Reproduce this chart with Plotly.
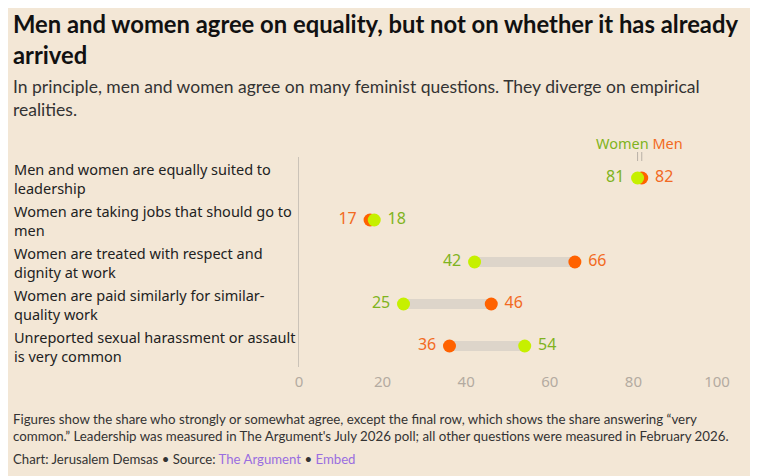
import plotly.graph_objects as go

# Survey results (% agreeing)
questions = [
    'Men and women are equally suited to<br>leadership',
    'Women are taking jobs that should go to<br>men',
    'Women are treated with respect and<br>dignity at work',
    'Women are paid similarly for similar-<br>quality work',
    'Unreported sexual harassment or assault<br>is very common',
]
women = [81, 18, 42, 25, 54]
men = [82, 17, 66, 46, 36]
x_ticks = [0, 20, 40, 60, 80, 100]

BG = '#f3e7d6'
WOMEN_DOT = '#c6f000'
MEN_DOT = '#ff6200'
WOMEN_TXT = '#7fb320'
MEN_TXT = '#f26a22'
HEAD = 'Lato, sans-serif'
BODY = 'Noto Sans, Open Sans, sans-serif'

# page body has an 8px margin, so figure pixels = reference pixels - 8
OFF = 8
rows = list(range(len(questions)))

fig = go.Figure()

# grey connectors between the two dots
cx, cy = [], []
for i in rows:
    cx += [women[i], men[i], None]
    cy += [i, i, None]
fig.add_trace(go.Scatter(x=cx, y=cy, mode='lines',
                         line=dict(color='#ddd5ca', width=10),
                         hoverinfo='skip'))

men_pos = ['middle right' if m >= w else 'middle left' for m, w in zip(men, women)]
women_pos = ['middle right' if w > m else 'middle left' for m, w in zip(men, women)]


def pad(v, pos):
    return f' {v}' if pos.endswith('right') else f'{v} '


fig.add_trace(go.Scatter(
    x=men, y=rows, mode='markers+text', name='Men',
    marker=dict(color=MEN_DOT, size=13),
    text=[pad(v, p) for v, p in zip(men, men_pos)], textposition=men_pos,
    textfont=dict(color=MEN_TXT, size=16, family=BODY),
))
fig.add_trace(go.Scatter(
    x=women, y=rows, mode='markers+text', name='Women',
    marker=dict(color=WOMEN_DOT, size=13),
    text=[pad(v, p) for v, p in zip(women, women_pos)], textposition=women_pos,
    textfont=dict(color=WOMEN_TXT, size=16, family=BODY),
))

# plot area spans ref pixels x 299..717, y 157..367
def py(pix):
    return (367 - pix) / 210


def px_(pix):
    return (pix - 299) / 418


annotations = []
for i, q in enumerate(questions):
    annotations.append(dict(
        x=px_(12), xref='paper', y=i, yref='y', text=q, showarrow=False,
        xanchor='left', yanchor='middle', align='left',
        font=dict(size=14.5, color='#222', family=BODY),
    ))

annotations += [
    dict(x=px_(11), xref='paper', y=py(8), yref='paper', showarrow=False,
         xanchor='left', yanchor='top', align='left',
         text='<b>Men and women agree on equality, but not on whether it has already<br>arrived</b>',
         font=dict(size=23.8, color='#111', family=HEAD)),
    dict(x=px_(11), xref='paper', y=py(74), yref='paper', showarrow=False,
         xanchor='left', yanchor='top', align='left',
         text='In principle, men and women agree on many feminist questions. They diverge on empirical<br>realities.',
         font=dict(size=17.5, color='#333', family=HEAD)),
    dict(x=81.5, xref='x', y=py(143), yref='paper', showarrow=False,
         xanchor='center', yanchor='middle',
         text=f'<span style="color:{WOMEN_TXT}">Women</span> <span style="color:{MEN_TXT}">Men</span>',
         font=dict(size=14.5, family=BODY)),
    dict(x=px_(11), xref='paper', y=py(409), yref='paper', showarrow=False,
         xanchor='left', yanchor='top', align='left',
         text='Figures show the share who strongly or somewhat agree, except the final row, which shows the share answering \u201cvery<br>'
              'common.\u201d Leadership was measured in The Argument\'s July 2026 poll; all other questions were measured in February 2026.',
         font=dict(size=13.3, color='#333', family=HEAD)),
    dict(x=px_(11), xref='paper', y=py(449), yref='paper', showarrow=False,
         xanchor='left', yanchor='top', align='left',
         text='Chart: Jerusalem Demsas \u2022 Source: <span style="color:#9a6ee0">The Argument</span> \u2022 <span style="color:#9a6ee0">Embed</span>',
         font=dict(size=13.2, color='#333', family=HEAD)),
]

shapes = [
    dict(type='line', xref='x', yref='paper', x0=v, x1=v, y0=py(161), y1=py(152),
         line=dict(color='#b8b0a6', width=1))
    for v in (81, 82)
]

fig.update_layout(
    width=758 - OFF, height=476 - OFF,
    margin=dict(l=299 - OFF, r=41, t=157 - OFF, b=109),
    paper_bgcolor=BG, plot_bgcolor=BG,
    showlegend=False,
    annotations=annotations,
    shapes=shapes,
    xaxis=dict(range=[0, 100], tickvals=x_ticks, showgrid=False, zeroline=False,
               tickfont=dict(size=15, color='#b3aba1', family=BODY), ticks='',
               ticklabelstandoff=4),
    yaxis=dict(range=[4.5, -0.5], showticklabels=False, showgrid=False, zeroline=False,
               showline=True, linecolor='#cbc3b8', linewidth=1),
)
fig.update_traces(cliponaxis=False)

fig.write_html('out.html')
